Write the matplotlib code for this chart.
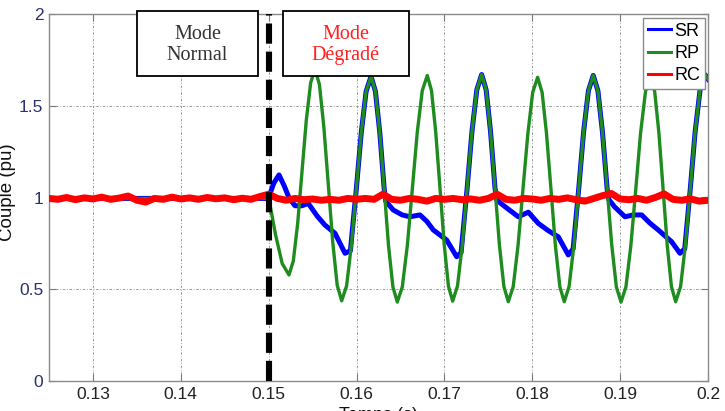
import numpy as np
import matplotlib
matplotlib.use("Agg")
import matplotlib.pyplot as plt
from matplotlib.patches import Rectangle

# ---------------- data ----------------
x_ticks = [0.13, 0.14, 0.15, 0.16, 0.17, 0.18, 0.19, 0.2]
x_tick_labels = ["0.13", "0.14", "0.15", "0.16", "0.17", "0.18", "0.19", "0.2"]
y_ticks = [0, 0.5, 1, 1.5, 2]
y_tick_labels = ["0", "0.5", "1", "1.5", "2"]

t_switch = 0.15

# RC : regulated torque, sampled every 1 ms
rc_t = np.linspace(0.125, 0.2, 76)
rc_v = [0.995, 0.990, 1.000, 0.988, 0.998, 0.992, 1.002, 0.990, 0.997, 1.008,
        0.985, 0.975, 0.995, 0.990, 1.002, 0.992, 0.998, 0.990, 1.000, 0.993,
        0.998, 0.988, 0.996, 0.990, 1.005, 1.018, 0.995, 0.985, 0.995, 0.988,
        0.992, 0.985, 0.990, 0.985, 0.995, 0.990, 0.995, 0.990, 1.018, 0.990,
        0.985, 0.995, 0.990, 0.980, 0.995, 0.990, 0.995, 0.988, 0.992, 0.985,
        0.995, 1.018, 0.990, 0.985, 0.995, 0.992, 0.985, 0.995, 0.990, 0.998,
        0.988, 0.980, 0.995, 1.010, 1.022, 0.992, 0.988, 0.995, 0.985, 1.000,
        1.020, 0.990, 0.985, 0.993, 0.980, 0.985]

# RP : green oscillating torque
rp_t = [0.125, 0.1499, 0.1500, 0.15077, 0.15154, 0.15231,
        0.15280, 0.15330, 0.15379, 0.15428, 0.15478, 0.15527,
        0.15578, 0.15628, 0.15679, 0.15730, 0.15780, 0.15831,
        0.15887, 0.15942, 0.15998, 0.16054, 0.16109, 0.16165,
        0.16215, 0.16265, 0.16315, 0.16364, 0.16414, 0.16464,
        0.16521, 0.16578, 0.16635, 0.16691, 0.16748, 0.16805,
        0.16853, 0.16901, 0.16950, 0.16998, 0.17046, 0.17094,
        0.17149, 0.17204, 0.17259, 0.17314, 0.17369, 0.17424,
        0.17475, 0.17525, 0.17576, 0.17626, 0.17677, 0.17727,
        0.17783, 0.17838, 0.17894, 0.17950, 0.18005, 0.18061,
        0.18112, 0.18162, 0.18213, 0.18263, 0.18314, 0.18364,
        0.18419, 0.18474, 0.18529, 0.18584, 0.18639, 0.18694,
        0.18747, 0.18799, 0.18852, 0.18905, 0.18957, 0.19010,
        0.19066, 0.19122, 0.19178, 0.19233, 0.19289, 0.19345,
        0.19393, 0.19441, 0.19489, 0.19536, 0.19584, 0.19632,
        0.19688, 0.19743, 0.19799, 0.19854, 0.19910, 0.19965, 0.2000]
rp_v = [0.995, 0.995, 1.00, 0.80, 0.64, 0.578,
        0.653, 0.858, 1.139, 1.420, 1.625, 1.700,
        1.615, 1.384, 1.069, 0.753, 0.522, 0.437,
        0.519, 0.743, 1.049, 1.354, 1.578, 1.660,
        1.578, 1.353, 1.045, 0.738, 0.513, 0.430,
        0.513, 0.738, 1.047, 1.355, 1.582, 1.665,
        1.583, 1.358, 1.050, 0.743, 0.517, 0.435,
        0.518, 0.744, 1.052, 1.361, 1.587, 1.670,
        1.587, 1.360, 1.051, 0.742, 0.515, 0.432,
        0.514, 0.738, 1.044, 1.349, 1.573, 1.655,
        1.573, 1.349, 1.044, 0.738, 0.514, 0.432,
        0.515, 0.740, 1.049, 1.357, 1.582, 1.665,
        1.582, 1.356, 1.048, 0.739, 0.513, 0.430,
        0.513, 0.738, 1.045, 1.353, 1.578, 1.660,
        1.578, 1.353, 1.046, 0.739, 0.514, 0.432,
        0.515, 0.742, 1.051, 1.360, 1.587, 1.670, 1.645]

# SR : blue torque
sr_t = [0.125, 0.1499, 0.1500, 0.15060, 0.15118, 0.15180, 0.15230, 0.15300,
        0.15380, 0.15451, 0.15550, 0.15640, 0.15755, 0.15869,
        0.15930, 0.15998, 0.16054, 0.16109, 0.16165, 0.16215, 0.16265, 0.16315, 0.16332,
        0.16418, 0.16520, 0.16608, 0.16722, 0.16800, 0.16874, 0.17026, 0.17140,
        0.17190, 0.17259, 0.17314, 0.17369, 0.17424, 0.17475, 0.17525, 0.17576, 0.17595,
        0.17690, 0.17841, 0.17955, 0.18069, 0.18180, 0.18296, 0.18410,
        0.18465, 0.18529, 0.18584, 0.18639, 0.18694, 0.18747, 0.18799, 0.18852, 0.18870,
        0.18935, 0.19055, 0.19150, 0.19245, 0.19340, 0.19434, 0.19586, 0.19681,
        0.19735, 0.19799, 0.19854, 0.19910, 0.19965, 0.2000]
sr_v = [0.995, 0.995, 1.00, 1.08, 1.123, 1.06, 1.00, 0.955,
        0.955, 0.968, 0.90, 0.85, 0.805, 0.696,
        0.71, 1.049, 1.354, 1.578, 1.660, 1.578, 1.353, 1.045, 0.98,
        0.932, 0.905, 0.895, 0.905, 0.87, 0.823, 0.768, 0.677,
        0.70, 1.052, 1.361, 1.587, 1.670, 1.587, 1.360, 1.051, 0.986,
        0.95, 0.895, 0.92, 0.859, 0.82, 0.786, 0.687,
        0.72, 1.049, 1.357, 1.582, 1.665, 1.582, 1.356, 1.048, 0.99,
        0.95, 0.895, 0.905, 0.905, 0.86, 0.823, 0.759, 0.696,
        0.72, 1.051, 1.360, 1.587, 1.670, 1.645]

series_labels = ["SR", "RP", "RC"]
box_labels = ["Mode\nNormal", "Mode\nDégradé"]

# ---------------- figure ----------------
fig = plt.figure(figsize=(7.25, 4.11), dpi=100)
ax = fig.add_axes([49 / 725, 30 / 411, 659 / 725, 367 / 411])

ax.plot(sr_t, sr_v, color="#0000ff", lw=3.6, solid_joinstyle="round", zorder=3, label=series_labels[0])
ax.plot(rp_t, rp_v, color="#1e8c1e", lw=2.4, solid_joinstyle="round", zorder=4, label=series_labels[1])
ax.plot(rc_t, rc_v, color="#ff0000", lw=5.0, solid_joinstyle="round", zorder=5, label=series_labels[2])

ax.axvline(t_switch, color="black", lw=4.4, dashes=(3.3, 1.3), zorder=6)

ax.set_xlim(0.125, 0.2)
ax.set_ylim(0, 2)
ax.set_xticks(x_ticks)
ax.set_xticklabels(x_tick_labels)
ax.set_yticks(y_ticks)
ax.set_yticklabels(y_tick_labels)

for lab in ax.get_xticklabels():
    lab.set_fontfamily("Liberation Sans"); lab.set_fontsize(12.5); lab.set_color("#222222")
for lab in ax.get_yticklabels():
    lab.set_fontfamily("Liberation Sans"); lab.set_fontsize(12.5); lab.set_color("#2b3170")

ax.tick_params(direction="in", length=5, width=0.8, color="#777777",
               top=True, right=True, pad=4)
ax.grid(True, color="#8a8a8a", lw=0.6, linestyle=(0, (3, 2, 1, 2)))
for s in ax.spines.values():
    s.set_color("#8a8a8a")
    s.set_linewidth(1.0)

ax.set_ylabel("Couple (pu)", fontfamily="Liberation Sans", fontsize=13.5, color="#111111")
ax.yaxis.set_label_coords(-0.050, 0.514)
ax.set_xlabel("Temps (s)", fontfamily="Liberation Sans", fontsize=13, color="#111111")
ax.xaxis.set_label_coords(0.5, -0.072)

# mode boxes
box_specs = [((0.13498, 1.664), 0.01384, "#333333"),
             ((0.15160, 1.664), 0.01440, "#ff2020")]
for (xy, w, col), txt in zip(box_specs, box_labels):
    ax.add_patch(Rectangle(xy, w, 0.352, facecolor="white", edgecolor="black",
                           lw=1.3, zorder=8, clip_on=False))
    ax.text(xy[0] + w / 2, xy[1] + 0.165, txt, ha="center", va="center",
            fontfamily="Liberation Serif", fontsize=14.5, color=col,
            linespacing=1.15, zorder=9)

leg = ax.legend(loc="upper right", bbox_to_anchor=(0.9955, 0.989), borderaxespad=0,
                prop=dict(family="Liberation Sans", size=13), handlelength=1.3,
                handletextpad=0.2, labelspacing=0.3, borderpad=0.25,
                fancybox=False, framealpha=1, edgecolor="#8a8a8a")
leg.set_zorder(10)
for line in leg.get_lines():
    line.set_linewidth(2.2)

fig.savefig("out.png", dpi=100)
